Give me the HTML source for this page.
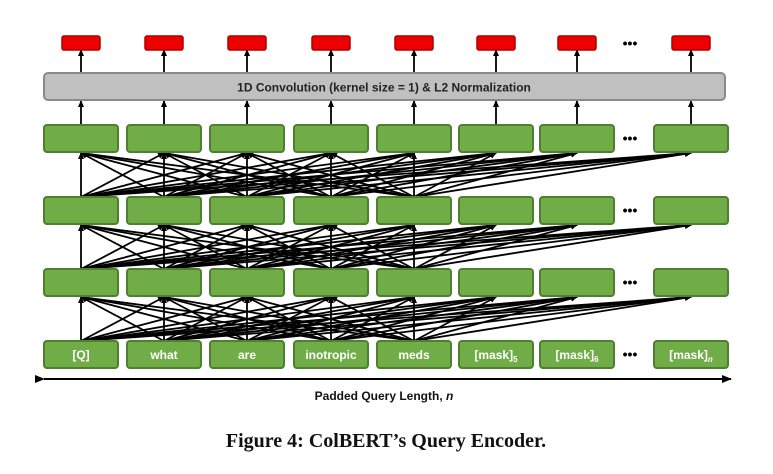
<!DOCTYPE html>
<html><head><meta charset="utf-8"><style>
body{margin:0;background:#fff;width:773px;height:469px;overflow:hidden}
</style></head><body>
<svg width="773" height="469" xmlns="http://www.w3.org/2000/svg" font-family="Liberation Sans, sans-serif">
<defs>
<marker id="a" markerWidth="7" markerHeight="7" refX="6" refY="3.5" orient="auto" markerUnits="userSpaceOnUse"><path d="M0,0.5 L7,3.5 L0,6.5z" fill="#000"/></marker>
<marker id="b" markerWidth="10" markerHeight="10" refX="9" refY="5" orient="auto" markerUnits="userSpaceOnUse"><path d="M0,1 L10,5 L0,9z" fill="#000"/></marker>
</defs>
<g id="g"></g>
<rect x="44" y="73" width="681" height="27" rx="4" fill="#c0c0c0" stroke="#8a8a8a" stroke-width="2"/>
<text x="384" y="91.5" font-size="12" font-weight="bold" text-anchor="middle" fill="#222">1D Convolution (kernel size = 1)  &amp;  L2 Normalization</text>
<line x1="44" y1="379" x2="731" y2="379" stroke="#000" stroke-width="2" marker-start="url(#b)" marker-end="url(#b)"/>
<text x="384" y="400" font-size="12" font-weight="bold" text-anchor="middle" fill="#111">Padded Query Length, <tspan font-style="italic">n</tspan></text>
<text x="386" y="447" font-family="Liberation Serif, serif" font-size="20" font-weight="bold" text-anchor="middle" fill="#111">Figure 4: ColBERT’s Query Encoder.</text>
</svg>
<script>
var s=document.querySelector('svg'),g=document.getElementById('g'),N='http://www.w3.org/2000/svg';
var xs=[44,127,210,294,377,459,540,654],w=74;
function el(t,a,p){var e=document.createElementNS(N,t);for(var k in a)e.setAttribute(k,a[k]);(p||g).appendChild(e);return e}
var rows=[125,197,269,341],h=27;
for(var r=0;r<3;r++){var yt=rows[r]+h,yb=rows[r+1];
for(var i=0;i<5;i++)for(var j=0;j<8;j++){el('line',{x1:xs[i]+37,y1:yb,x2:xs[j]+37,y2:yt+1,stroke:'#000','stroke-width':1.8,'marker-end':'url(#a)'})}}
xs.forEach(function(x){var c=x+37;
el('line',{x1:c,y1:125,x2:c,y2:101,stroke:'#000','stroke-width':1.8,'marker-end':'url(#a)'});
el('line',{x1:c,y1:73,x2:c,y2:50,stroke:'#000','stroke-width':1.8,'marker-end':'url(#a)'});
el('rect',{x:c-19,y:36,width:38,height:14,rx:2,fill:'#ee0000',stroke:'#b00000','stroke-width':1.5});
});
var labels=['[Q]','what','are','inotropic','meds','[mask]','[mask]','[mask]'],subs=['','','','','','5','6','n'];
rows.forEach(function(y,r){xs.forEach(function(x,i){
el('rect',{x:x,y:y,width:w,height:h,rx:3,fill:'#70ad47',stroke:'#507e32','stroke-width':2});
if(r==3){var t=el('text',{x:x+37,y:y+18,'font-size':12,'font-weight':'bold','text-anchor':'middle',fill:'#fff'});t.textContent=labels[i];
if(subs[i]){var ts=el('tspan',{'font-size':8,dy:3,'font-style':subs[i]=='n'?'italic':'normal'},t);ts.textContent=subs[i];}}
});
var d=el('text',{x:630,y:y+18,'font-size':14,'font-weight':'bold','text-anchor':'middle',fill:'#000'});d.textContent='•••';});
el('text',{x:630,y:48,'font-size':14,'font-weight':'bold','text-anchor':'middle',fill:'#000'}).textContent='•••';
</script>
</body></html>
